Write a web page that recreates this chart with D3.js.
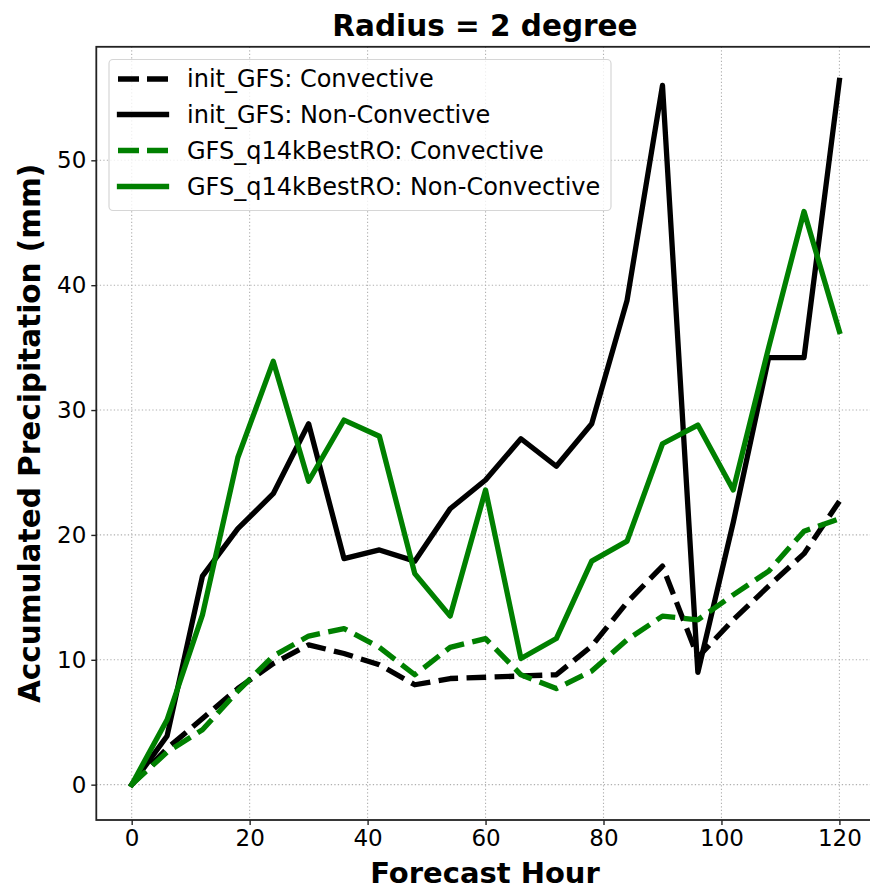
<!DOCTYPE html>
<html>
<head>
<meta charset="utf-8">
<script src="https://cdn.jsdelivr.net/npm/d3@7"></script>
<style>
  html, body { margin: 0; padding: 0; background: #fff; }
  svg { display: block; font-family: "DejaVu Sans", sans-serif; }
</style>
</head>
<body>
<svg id="chart" width="870" height="889"></svg>
<script>
// Forecast hours (every 6 h out to 5 days)
const hours = [0, 6, 12, 18, 24, 30, 36, 42, 48, 54, 60, 66, 72, 78, 84, 90, 96, 102, 108, 114, 120];

// Accumulated precipitation (mm), radius = 2 degree
const initConvective      = [0, 2.9, 5.3, 7.7, 9.7, 11.2, 10.5, 9.6, 8.0, 8.5, 8.6, 8.7, 8.8, 11.1, 14.6, 17.5, 10.2, 13.2, 15.9, 18.5, 22.7];
const initNonConvective   = [0, 3.9, 16.7, 20.5, 23.3, 28.9, 18.1, 18.8, 17.9, 22.1, 24.4, 27.7, 25.5, 28.9, 38.8, 56.0, 9.0, 21.0, 34.2, 34.2, 56.4];
const q14kConvective      = [0, 2.6, 4.4, 7.5, 10.3, 11.9, 12.5, 11.0, 8.8, 11.0, 11.7, 8.8, 7.7, 9.1, 11.6, 13.5, 13.2, 15.2, 17.1, 20.3, 21.3];
const q14kNonConvective   = [0, 5.2, 13.6, 26.2, 33.9, 24.3, 29.2, 27.9, 16.9, 13.5, 23.6, 10.1, 11.7, 17.9, 19.5, 27.3, 28.8, 23.6, 35.0, 45.9, 36.3];

const seriesLabels = [
  "init_GFS: Convective",
  "init_GFS: Non-Convective",
  "GFS_q14kBestRO: Convective",
  "GFS_q14kBestRO: Non-Convective"
];
const seriesValues = [initConvective, initNonConvective, q14kConvective, q14kNonConvective];
const seriesColors = ["#000000", "#000000", "#008000", "#008000"];
const seriesDashed = [true, false, true, false];

const xTicks = [0, 20, 40, 60, 80, 100, 120];
const yTicks = [0, 10, 20, 30, 40, 50];

const titleText = "Radius = 2 degree";
const xLabelText = "Forecast Hour";
const yLabelText = "Accumulated Precipitation (mm)";

// ---- layout ----
const plot = { left: 96.3, right: 874.8, top: 46.8, bottom: 820 };
const lineW = 5.3;
const dashPattern = `${3.7 * lineW},${1.6 * lineW}`;

const svg = d3.select("#chart");

const x = d3.scaleLinear().domain([-6, 126]).range([plot.left, plot.right]);
const y = d3.scaleLinear().domain([-2.83, 59.09]).range([plot.bottom, plot.top]);

svg.append("defs").append("clipPath").attr("id", "plotClip")
  .append("rect")
  .attr("x", plot.left).attr("y", plot.top)
  .attr("width", plot.right - plot.left).attr("height", plot.bottom - plot.top);

// grid
const grid = svg.append("g").attr("class", "grid");
grid.selectAll("line.vx").data(xTicks).join("line")
  .attr("x1", d => x(d)).attr("x2", d => x(d))
  .attr("y1", plot.top).attr("y2", plot.bottom)
  .attr("stroke", "#b0b0b0").attr("stroke-width", 1.1)
  .attr("stroke-dasharray", "1.3,2.2");
grid.selectAll("line.hy").data(yTicks).join("line")
  .attr("x1", plot.left).attr("x2", plot.right)
  .attr("y1", d => y(d)).attr("y2", d => y(d))
  .attr("stroke", "#b0b0b0").attr("stroke-width", 1.1)
  .attr("stroke-dasharray", "1.3,2.2");

// series lines
const line = d3.line().x((d, i) => x(hours[i])).y(d => y(d));
const linesG = svg.append("g").attr("clip-path", "url(#plotClip)");
seriesValues.forEach((vals, k) => {
  linesG.append("path")
    .datum(vals)
    .attr("d", line)
    .attr("fill", "none")
    .attr("stroke", seriesColors[k])
    .attr("stroke-width", lineW)
    .attr("stroke-linejoin", "round")
    .attr("stroke-linecap", seriesDashed[k] ? "butt" : "square")
    .attr("stroke-dasharray", seriesDashed[k] ? dashPattern : null);
});

// axes
const tickFont = 23;
const xAxis = d3.axisBottom(x).tickValues(xTicks).tickSize(5).tickPadding(5).tickFormat(d3.format("d"));
const yAxis = d3.axisLeft(y).tickValues(yTicks).tickSize(5).tickPadding(5).tickFormat(d3.format("d"));

const gx = svg.append("g").attr("transform", `translate(0,${plot.bottom})`).call(xAxis);
const gy = svg.append("g").attr("transform", `translate(${plot.left},0)`).call(yAxis);
[gx, gy].forEach(g => {
  g.select(".domain").remove();
  g.selectAll(".tick line").attr("stroke", "#222").attr("stroke-width", 1.4);
  g.selectAll(".tick text").attr("fill", "#000").style("font-size", tickFont + "px")
    .style("font-family", "'DejaVu Sans', sans-serif");
});

// spines
svg.append("rect")
  .attr("x", plot.left).attr("y", plot.top)
  .attr("width", plot.right - plot.left).attr("height", plot.bottom - plot.top)
  .attr("fill", "none").attr("stroke", "#222").attr("stroke-width", 1.8);

// title and axis labels
svg.append("text")
  .attr("x", 485).attr("y", 36)
  .attr("text-anchor", "middle")
  .style("font-size", "29.5px").style("font-weight", "bold")
  .text(titleText);

svg.append("text")
  .attr("x", 485).attr("y", 883)
  .attr("text-anchor", "middle")
  .style("font-size", "29px").style("font-weight", "bold")
  .text(xLabelText);

svg.append("text")
  .attr("transform", `translate(40,${(plot.top + plot.bottom) / 2}) rotate(-90)`)
  .attr("text-anchor", "middle")
  .style("font-size", "29.5px").style("font-weight", "bold")
  .text(yLabelText);

// legend
const legend = svg.append("g").attr("class", "legend");
legend.append("rect")
  .attr("x", 109).attr("y", 59.5)
  .attr("width", 502).attr("height", 151)
  .attr("rx", 4).attr("ry", 4)
  .attr("fill", "#fff").attr("fill-opacity", 0.8)
  .attr("stroke", "#d6d6d6").attr("stroke-width", 1.2);

const rowY = [79, 114.5, 150.5, 186.5];
seriesLabels.forEach((lab, k) => {
  legend.append("line")
    .attr("x1", seriesDashed[k] ? 118 : 119.5).attr("x2", seriesDashed[k] ? 168 : 166.5)
    .attr("y1", rowY[k]).attr("y2", rowY[k])
    .attr("stroke", seriesColors[k])
    .attr("stroke-width", lineW)
    .attr("stroke-linecap", seriesDashed[k] ? "butt" : "square")
    .attr("stroke-dasharray", seriesDashed[k] ? "21,8" : null);
  legend.append("text")
    .attr("x", 187).attr("y", rowY[k])
    .attr("dy", "0.35em")
    .style("font-size", "24px")
    .text(lab);
});
</script>
</body>
</html>
